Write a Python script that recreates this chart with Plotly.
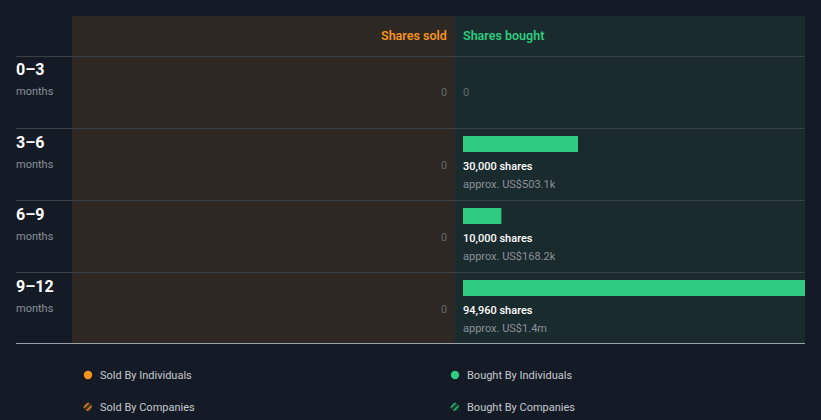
import plotly.graph_objects as go

# ---- data ----
periods = ["0–3", "3–6", "6–9", "9–12"]
period_unit = ["months", "months", "months", "months"]
sold_shares = [0, 0, 0, 0]
bought_shares = [0, 30000, 10000, 94960]
bought_value = ["", "approx. US$503.1k", "approx. US$168.2k", "approx. US$1.4m"]
legend_labels = ["Sold By Individuals", "Bought By Individuals", "Sold By Companies", "Bought By Companies"]

# ---- style ----
W, H = 821, 420
BG = "#151b26"
SOLD_BG = "#2d2823"
BOUGHT_BG = "#1a2b2e"
GREEN = "#2ecb80"
ORANGE = "#f7931e"
GREY = "#8b9096"
DIM = "#62676c"
FONT = "Roboto"

def px(x):
    return x / W

def py(y):
    return 1 - y / H

fig = go.Figure()

fig.add_trace(go.Bar(
    y=periods, x=bought_shares, orientation="h",
    marker=dict(color=GREEN, line=dict(width=0)),
    width=0.222, offset=-0.389,
    xaxis="x", yaxis="y", hoverinfo="skip", showlegend=False,
))
fig.add_trace(go.Bar(
    y=periods, x=sold_shares, orientation="h",
    marker=dict(color=ORANGE, line=dict(width=0)),
    width=0.222, offset=-0.389,
    xaxis="x2", yaxis="y", hoverinfo="skip", showlegend=False,
))

shapes = []
# panels
shapes.append(dict(type="rect", xref="paper", yref="paper", x0=px(72), x1=px(455), y0=py(343), y1=py(16),
                   fillcolor=SOLD_BG, line=dict(width=0), layer="below"))
shapes.append(dict(type="rect", xref="paper", yref="paper", x0=px(455), x1=px(805), y0=py(343), y1=py(16),
                   fillcolor=BOUGHT_BG, line=dict(width=0), layer="below"))
# row separators
for yy in [56.5, 128.5, 200.5, 272.5]:
    shapes.append(dict(type="line", xref="paper", yref="paper", x0=px(16), x1=px(805), y0=py(yy), y1=py(yy),
                       line=dict(color="#3b4045", width=1), layer="below"))
shapes.append(dict(type="line", xref="paper", yref="paper", x0=px(16), x1=px(805), y0=py(343.5), y1=py(343.5),
                   line=dict(color="#9aa0a6", width=1), layer="above"))

annotations = []
# headers
annotations.append(dict(xref="paper", yref="paper", x=px(449), y=py(35), text="Shares sold",
                        xanchor="right", yanchor="middle", showarrow=False,
                        font=dict(family=FONT, size=12.5, color=ORANGE, weight=600)))
annotations.append(dict(xref="paper", yref="paper", x=px(461), y=py(35), text="Shares bought",
                        xanchor="left", yanchor="middle", showarrow=False,
                        font=dict(family=FONT, size=12.5, color=GREEN, weight=600)))

for i, p in enumerate(periods):
    annotations.append(dict(xref="paper", yref="y", x=px(14), y=p, yshift=22, text=p,
                            xanchor="left", yanchor="middle", showarrow=False,
                            font=dict(family=FONT, size=16, color="#ffffff", weight=700)))
    annotations.append(dict(xref="paper", yref="y", x=px(14), y=p, yshift=0, text=period_unit[i],
                            xanchor="left", yanchor="middle", showarrow=False,
                            font=dict(family=FONT, size=11, color=GREY)))
    # sold value
    annotations.append(dict(xref="x2", yref="y", x=0, y=p, xshift=-6, yshift=-1, text="{:,}".format(sold_shares[i]),
                            xanchor="right", yanchor="middle", showarrow=False,
                            font=dict(family=FONT, size=11, color=DIM)))
    if bought_shares[i] == 0:
        annotations.append(dict(xref="x", yref="y", x=0, y=p, xshift=-2, yshift=-1, text="0",
                                xanchor="left", yanchor="middle", showarrow=False,
                                font=dict(family=FONT, size=11, color=DIM)))
    else:
        annotations.append(dict(xref="x", yref="y", x=0, y=p, xshift=-2, yshift=-2,
                                text="{:,} shares".format(bought_shares[i]),
                                xanchor="left", yanchor="middle", showarrow=False,
                                font=dict(family=FONT, size=11, color="#ffffff", weight=500)))
        annotations.append(dict(xref="x", yref="y", x=0, y=p, xshift=-2, yshift=-20,
                                text=bought_value[i],
                                xanchor="left", yanchor="middle", showarrow=False,
                                font=dict(family=FONT, size=11, color=GREY)))

# legend
leg_pos = [(88, 375, ORANGE, False), (455, 375, GREEN, False), (88, 407, ORANGE, True), (455, 407, GREEN, True)]
for (lx, ly, col, hatched), lab in zip(leg_pos, legend_labels):
    r = 4.2
    if not hatched:
        shapes.append(dict(type="circle", xref="paper", yref="paper", x0=px(lx - r), x1=px(lx + r),
                           y0=py(ly + r), y1=py(ly - r), fillcolor=col, line=dict(width=0)))
    else:
        dark = "#4a3417" if col == ORANGE else "#17402f"
        shapes.append(dict(type="circle", xref="paper", yref="paper", x0=px(lx - r), x1=px(lx + r),
                           y0=py(ly + r), y1=py(ly - r), fillcolor=dark, line=dict(width=0)))
        for d in [-1.8, 1.2]:
            shapes.append(dict(type="line", xref="paper", yref="paper",
                               x0=px(lx - 2.4 + d), y0=py(ly + 2.4 + d), x1=px(lx + 2.4 + d), y1=py(ly - 2.4 + d),
                               line=dict(color=col, width=1.2)))
    annotations.append(dict(xref="paper", yref="paper", x=px(lx + 10), y=py(ly), text=lab,
                            xanchor="left", yanchor="middle", showarrow=False,
                            font=dict(family=FONT, size=11, color="#c5c9ce")))

fig.update_layout(
    width=W, height=H, margin=dict(l=0, r=0, t=0, b=0),
    paper_bgcolor=BG, plot_bgcolor="rgba(0,0,0,0)",
    xaxis=dict(domain=[px(463), px(805)], range=[0, 89200], visible=False, fixedrange=True),
    xaxis2=dict(domain=[px(72), px(455)], range=[1, 0], visible=False, anchor="y", fixedrange=True),
    yaxis=dict(domain=[py(344), py(56)], range=[3.5, -0.5], visible=False, type="category",
               categoryorder="array", categoryarray=periods, fixedrange=True),
    shapes=shapes, annotations=annotations, showlegend=False,
    font=dict(family=FONT),
)

fig.write_html("out.html")
